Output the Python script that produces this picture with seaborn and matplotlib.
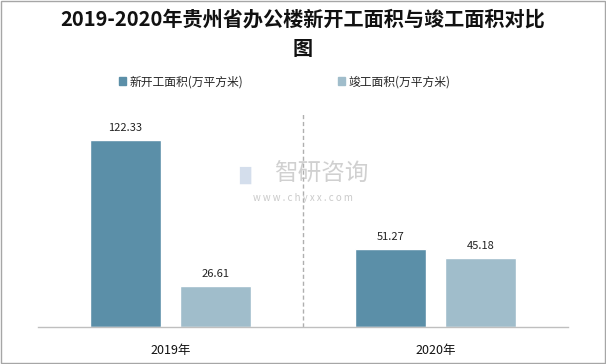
import pandas as pd
import matplotlib
matplotlib.use("Agg")
import matplotlib.pyplot as plt
import seaborn as sns
from matplotlib.patches import Rectangle

# 数据
years = ["2019年", "2020年"]
series_names = ["新开工面积(万平方米)", "竣工面积(万平方米)"]
new_start = [122.33, 51.27]
completed = [26.61, 45.18]
colors = ["#5B8FA8", "#A0BDCB"]

df = pd.DataFrame({
    "年份": years * 2,
    "指标": [series_names[0]] * 2 + [series_names[1]] * 2,
    "面积": new_start + completed,
})

sns.set_theme(style="white")
plt.rcParams["font.family"] = ["Noto Sans CJK SC", "DejaVu Sans"]

fig = plt.figure(figsize=(6.06, 3.64), dpi=100)
ax = fig.add_axes([0.063, 0.102, 0.874, 0.59])

sns.barplot(data=df, x="年份", y="面积", hue="指标", palette=colors,
            width=0.68, gap=0.22, ax=ax, legend=False, saturation=1)

for c in ax.containers:
    ax.bar_label(c, labels=[f"{v:.2f}" for v in c.datavalues],
                 padding=5, fontsize=8, color="#222222")

ax.set_xlim(-0.5, 1.5)
ax.set_ylim(0, 140.5)
ax.set_yticks([])
ax.set_xlabel("")
ax.set_ylabel("")
ax.tick_params(axis="x", length=0, pad=12, labelsize=9, colors="#111111")
for s in ["top", "left", "right"]:
    ax.spines[s].set_visible(False)
ax.spines["bottom"].set_color("#BFBFBF")
ax.spines["bottom"].set_linewidth(1)
ax.axvline(0.5, color="#AFAFAF", linestyle=(0, (3, 2)), linewidth=1)

# 标题
fig.text(0.5, 0.948, "2019-2020年贵州省办公楼新开工面积与竣工面积对比",
         ha="center", va="center", fontsize=14.5, fontweight="bold", color="#111111")
fig.text(0.5, 0.868, "图", ha="center", va="center",
         fontsize=14.5, fontweight="bold", color="#111111")

# 图例
handles = [plt.Rectangle((0, 0), 1, 1, color=c) for c in colors]
fig.legend(handles, series_names, loc="center", bbox_to_anchor=(0.47, 0.775),
           ncol=2, frameon=False, fontsize=8.5, handlelength=0.6, handleheight=0.6,
           handletextpad=0.3, columnspacing=8)

# 水印
fig.text(0.53, 0.52, "智研咨询", ha="center", va="center", fontsize=17,
         color="#BDBDBD", alpha=0.7)
fig.text(0.405, 0.52, "▉", ha="center", va="center", fontsize=12,
         color="#B8C8E0", alpha=0.6, family=["DejaVu Sans"])
fig.text(0.5, 0.455, "w w w . c h y x x . c o m", ha="center", va="center",
         fontsize=7, color="#BDBDBD", alpha=0.8)

# 外框
fig.add_artist(Rectangle((0.002, 0.003), 0.996, 0.994, transform=fig.transFigure,
                         fill=False, edgecolor="#A6A6A6", linewidth=1))

fig.savefig("out.png", dpi=100)
